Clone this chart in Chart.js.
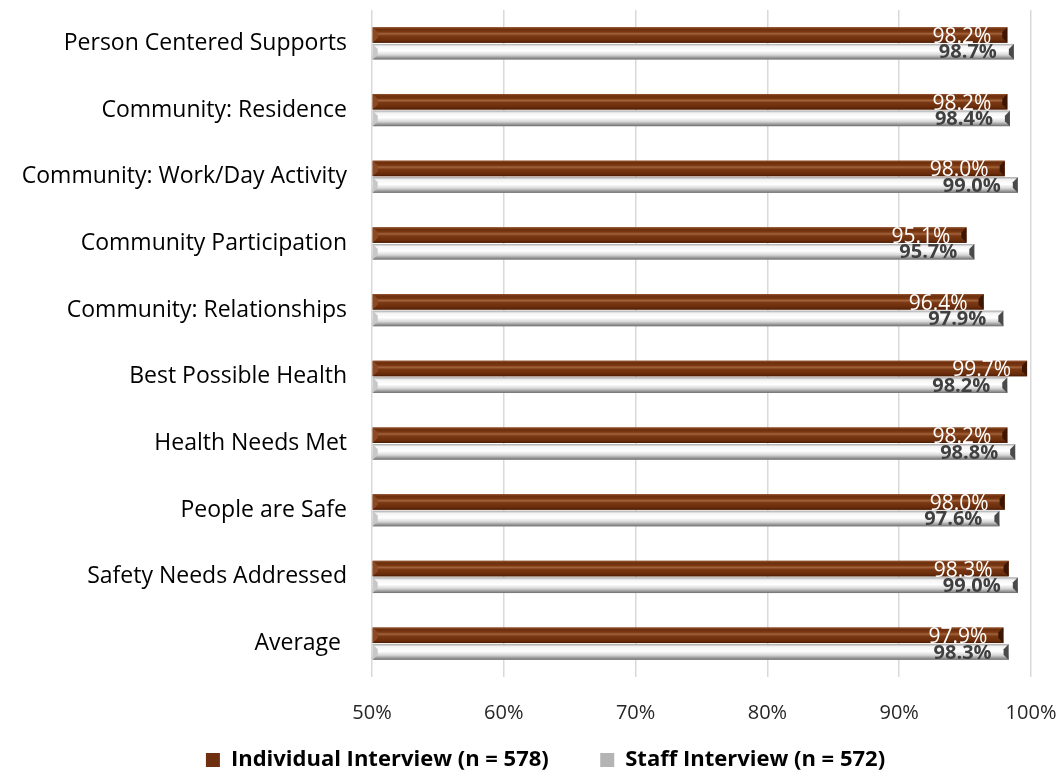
<!DOCTYPE html>
<html>
<head>
<meta charset="utf-8">
<script src="https://cdn.jsdelivr.net/npm/chart.js@4.4.1/dist/chart.umd.min.js"></script>
<style>
  html, body { margin: 0; padding: 0; background: #fff; }
  #wrap { width: 1063px; height: 775px; position: relative; }
</style>
</head>
<body>
<div id="wrap"><canvas id="ratingsChart"></canvas></div>
<script>
const categories = [
    'Person Centered Supports',
    'Community: Residence',
    'Community: Work/Day Activity',
    'Community Participation',
    'Community: Relationships',
    'Best Possible Health',
    'Health Needs Met',
    'People are Safe',
    'Safety Needs Addressed',
    'Average '
];
const individualValues = [98.2, 98.2, 98.0, 95.1, 96.4, 99.7, 98.2, 98.0, 98.3, 97.9];
const staffValues = [98.7, 98.4, 99.0, 95.7, 97.9, 98.2, 98.8, 97.6, 99.0, 98.3];
const seriesNames = ['Individual Interview (n = 578)', 'Staff Interview (n = 572)'];
const xTicks = [50, 60, 70, 80, 90, 100];

const FONT = '"Open Sans", "Noto Sans", sans-serif';

// bevelled look for each bar, drawn over the plain fill using the bar's own geometry
const barShading = {
    id: 'barShading',
    afterDatasetsDraw(chart) {
        const ctx = chart.ctx;
        const area = chart.chartArea;
        ctx.save();
        ctx.beginPath();
        ctx.rect(area.left, area.top, area.right - area.left, area.bottom - area.top);
        ctx.clip();
        chart.data.datasets.forEach((ds, di) => {
            const meta = chart.getDatasetMeta(di);
            meta.data.forEach(bar => {
                const p = bar.getProps(['x', 'y', 'base', 'height'], true);
                const top = p.y - p.height / 2;
                const left = Math.min(p.base, p.x);
                const w = Math.abs(p.x - p.base);
                const h = p.height;
                const g = ctx.createLinearGradient(0, top, 0, top + h);
                if (di === 0) {
                    g.addColorStop(0, '#9a5a34');
                    g.addColorStop(0.12, '#6d2e0c');
                    g.addColorStop(0.3, '#7a3812');
                    g.addColorStop(0.42, '#a2643c');
                    g.addColorStop(0.55, '#7b3913');
                    g.addColorStop(0.85, '#6a2c0b');
                    g.addColorStop(1, '#4a1d05');
                } else {
                    g.addColorStop(0, '#a8a8a8');
                    g.addColorStop(0.15, '#f4f4f4');
                    g.addColorStop(0.45, '#ffffff');
                    g.addColorStop(0.7, '#d8d8d8');
                    g.addColorStop(0.88, '#9a9a9a');
                    g.addColorStop(1, '#6e6e6e');
                }
                ctx.fillStyle = g;
                ctx.fillRect(left, top, w, h);
                // end caps
                const cap = Math.min(5, h / 3);
                ctx.fillStyle = di === 0 ? '#3c1603' : '#4a4a4a';
                ctx.beginPath();
                ctx.moveTo(p.x, top);
                ctx.lineTo(p.x, top + h);
                ctx.lineTo(p.x - cap, top + h - cap);
                ctx.lineTo(p.x - cap, top + cap);
                ctx.closePath();
                ctx.fill();
                ctx.fillStyle = di === 0 ? '#8d4a22' : '#c8c8c8';
                ctx.beginPath();
                ctx.moveTo(left, top);
                ctx.lineTo(left + cap, top + cap);
                ctx.lineTo(left + cap, top + h - cap);
                ctx.lineTo(left, top + h);
                ctx.closePath();
                ctx.fill();
            });
        });
        ctx.restore();
    }
};

// value labels at the end of each bar
const valueLabels = {
    id: 'valueLabels',
    afterDatasetsDraw(chart) {
        const ctx = chart.ctx;
        ctx.save();
        ctx.textAlign = 'right';
        ctx.textBaseline = 'middle';
        chart.data.datasets.forEach((ds, di) => {
            const meta = chart.getDatasetMeta(di);
            meta.data.forEach((bar, i) => {
                const p = bar.getProps(['x', 'y'], true);
                const text = ds.data[i].toFixed(1) + '%';
                if (di === 0) {
                    ctx.font = '21px ' + FONT;
                    ctx.fillStyle = '#ffffff';
                    ctx.fillText(text, p.x - 16, p.y + 2);
                } else {
                    ctx.font = 'bold 20px ' + FONT;
                    ctx.fillStyle = '#404040';
                    ctx.fillText(text, p.x - 17, p.y + 1);
                }
            });
        });
        ctx.restore();
    }
};

// the key sits a little right of the plot's centre and close to the bottom edge
const legendOffset = {
    id: 'legendOffset',
    afterLayout(chart) {
        chart.legend.left += 30;
        chart.legend.right += 30;
        chart.legend.top += 6;
        chart.legend.bottom += 6;
    }
};

new Chart(document.getElementById('ratingsChart'), {
    type: 'bar',
    data: {
        labels: categories,
        datasets: [{
            label: seriesNames[0],
            data: individualValues,
            backgroundColor: '#6e3010',
            borderWidth: 0,
            base: 50,
            categoryPercentage: 0.5,
            barPercentage: 0.93
        }, {
            label: seriesNames[1],
            data: staffValues,
            backgroundColor: '#b4b4b4',
            borderWidth: 0,
            base: 50,
            categoryPercentage: 0.5,
            barPercentage: 0.93
        }]
    },
    options: {
        indexAxis: 'y',
        responsive: true,
        maintainAspectRatio: false,
        animation: false,
        layout: { padding: { top: 10, right: 32, bottom: 0, left: 0 } },
        scales: {
            x: {
                min: 50,
                max: 100,
                afterBuildTicks: axis => { axis.ticks = xTicks.map(v => ({ value: v })); },
                afterFit: axis => {
                    axis.height = 66;
                    axis.paddingLeft = 0;
                    axis.paddingRight = 0;
                },
                grid: { color: '#d9d9d9', lineWidth: 1.5, drawTicks: false },
                border: { display: false },
                ticks: {
                    padding: 24,
                    color: '#262626',
                    font: { family: FONT, size: 20 },
                    callback: v => v + '%'
                }
            },
            y: {
                afterFit: axis => {
                    axis.width = 372;
                    axis.paddingTop = 0;
                    axis.paddingBottom = 0;
                },
                grid: { display: false, drawTicks: false },
                border: { display: false },
                ticks: {
                    padding: 25,
                    color: '#000000',
                    font: { family: FONT, size: 23 }
                }
            }
        },
        plugins: {
            legend: {
                position: 'bottom',
                labels: {
                    color: '#000000',
                    font: { family: FONT, size: 22, weight: 'bold' },
                    boxWidth: 14,
                    boxHeight: 14,
                    padding: 0,
                    // spread the two entries apart like the original key
                    generateLabels: chart => {
                        const items = Chart.defaults.plugins.legend.labels.generateLabels(chart);
                        items[0].text = items[0].text + '         ';
                        return items;
                    }
                }
            },
            tooltip: { enabled: false }
        }
    },
    plugins: [barShading, valueLabels, legendOffset]
});
</script>
</body>
</html>
